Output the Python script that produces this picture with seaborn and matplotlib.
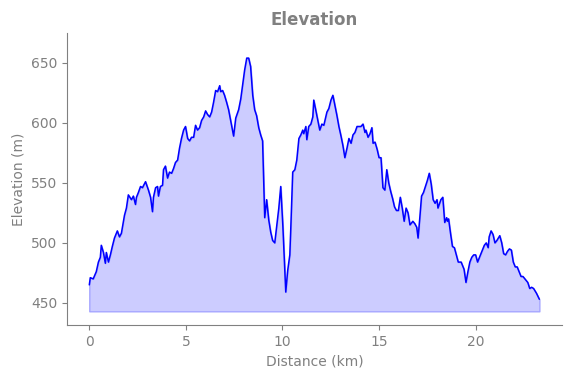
import matplotlib
matplotlib.use("Agg")
import matplotlib.pyplot as plt
import seaborn as sns
import pandas as pd

distance_km = [0.0, 0.05, 0.2, 0.36, 0.47, 0.57, 0.62, 0.73, 0.83, 0.88, 0.99, 1.09, 1.19, 1.3, 1.45, 1.56,
               1.66, 1.82, 1.92, 2.02, 2.18, 2.28, 2.39, 2.44, 2.54, 2.65, 2.75, 2.91, 3.06, 3.17, 3.27,
               3.32, 3.43, 3.53, 3.58, 3.68, 3.79, 3.84, 3.94, 4.05, 4.15, 4.26, 4.36, 4.46, 4.57, 4.67,
               4.77, 4.88, 4.98, 5.09, 5.19, 5.29, 5.4, 5.5, 5.6, 5.71, 5.81, 5.92, 6.02, 6.12, 6.23, 6.33,
               6.43, 6.54, 6.64, 6.75, 6.8, 6.9, 7.0, 7.11, 7.21, 7.47, 7.58, 7.73, 7.84, 7.94, 8.04, 8.15,
               8.25, 8.35, 8.46, 8.56, 8.66, 8.77, 8.87, 8.97, 9.08, 9.18, 9.29, 9.39, 9.49, 9.6, 9.7, 9.81,
               9.91, 10.02, 10.17, 10.27, 10.38, 10.43, 10.53, 10.64, 10.74, 10.85, 10.95, 11.05, 11.1,
               11.21, 11.26, 11.36, 11.47, 11.57, 11.62, 11.72, 11.83, 11.93, 12.04, 12.14, 12.3, 12.4,
               12.51, 12.61, 12.71, 12.82, 12.92, 13.03, 13.13, 13.23, 13.34, 13.44, 13.55, 13.65, 13.75,
               13.86, 13.96, 14.06, 14.17, 14.27, 14.32, 14.43, 14.53, 14.63, 14.69, 14.79, 14.9, 15.0,
               15.1, 15.2, 15.3, 15.4, 15.5, 15.6, 15.7, 15.8, 15.9, 16.0, 16.1, 16.2, 16.3, 16.4, 16.5,
               16.6, 16.75, 16.85, 16.95, 17.02, 17.1, 17.2, 17.3, 17.4, 17.5, 17.6, 17.7, 17.8, 17.9,
               18.0, 18.05, 18.2, 18.3, 18.4, 18.5, 18.54, 18.6, 18.7, 18.8, 18.9, 19.0, 19.1, 19.25,
               19.35, 19.4, 19.5, 19.6, 19.7, 19.8, 19.9, 20.0, 20.1, 20.2, 20.35, 20.45, 20.55, 20.65,
               20.7, 20.8, 20.9, 21.0, 21.1, 21.25, 21.35, 21.45, 21.55, 21.65, 21.75, 21.85, 21.95,
               22.05, 22.15, 22.25, 22.35, 22.45, 22.6, 22.7, 22.8, 22.9, 23.0, 23.15, 23.3]
elevation_m = [465, 471, 470, 476, 484, 488, 498, 492, 483, 492, 484, 490, 497, 504, 510, 505,
               508, 523, 529, 540, 536, 539, 532, 538, 542, 547, 546, 551, 544, 538, 526,
               538, 546, 547, 539, 547, 548, 561, 564, 554, 559, 558, 562, 567, 569, 579,
               587, 594, 597, 587, 585, 588, 588, 598, 594, 596, 602, 605, 610, 607, 605, 609,
               617, 627, 626, 631, 626, 627, 623, 617, 611, 589, 604, 611, 620, 632, 644, 654,
               654, 647, 623, 611, 606, 596, 590, 585, 521, 536, 519, 509, 502, 500, 514, 529,
               547, 514, 459, 477, 490, 512, 559, 561, 569, 587, 590, 594, 591,
               597, 586, 597, 599, 605, 619, 611, 602, 594, 599, 598, 609, 612,
               619, 623, 615, 606, 597, 589, 581, 571, 579, 587, 583, 590, 592,
               597, 597, 597, 599, 592, 594, 588, 591, 596, 583, 584, 578, 571,
               571, 546, 544, 561, 550, 543, 537, 530, 527, 527, 538, 529, 518, 529, 525,
               515, 518, 516, 513, 504, 519, 539, 542, 547, 552, 558, 549, 536, 533,
               536, 529, 536, 538, 517, 521, 518, 520, 508, 497, 496, 490, 484, 484,
               480, 478, 467, 476, 484, 488, 490, 490, 484, 488, 494, 498, 500, 496,
               505, 510, 507, 500, 502, 506, 500, 491, 490, 493, 495, 494, 484,
               480, 480, 476, 472, 472, 469, 467, 462, 463, 462, 458, 453]

df = pd.DataFrame({"Distance (km)": distance_km, "Elevation (m)": elevation_m})

sns.set_style("ticks")
fig, ax = plt.subplots(figsize=(5.71, 3.78), dpi=100)
base = 443
ax.fill_between(df["Distance (km)"], df["Elevation (m)"], base,
                facecolor=(0.8, 0.8, 1.0), edgecolor=(0.65, 0.65, 1.0), linewidth=1)
sns.lineplot(data=df, x="Distance (km)", y="Elevation (m)", color="#0000ff", linewidth=1.1, ax=ax)

ax.set_ylim(431.5, 675)
ax.set_xticks([0, 5, 10, 15, 20])
ax.set_yticks([450, 500, 550, 600, 650])
gray = "#808080"
ax.set_title("Elevation", color=gray, fontweight="bold", fontsize=12)
ax.set_xlabel("Distance (km)", color=gray, fontsize=10)
ax.set_ylabel("Elevation (m)", color=gray, fontsize=10)
ax.tick_params(colors=gray, labelcolor=gray, labelsize=10)
for s in ["left", "bottom"]:
    ax.spines[s].set_color(gray)
sns.despine(ax=ax)
fig.subplots_adjust(left=0.117, right=0.984, top=0.913, bottom=0.14)
fig.savefig("out.png", dpi=100)
